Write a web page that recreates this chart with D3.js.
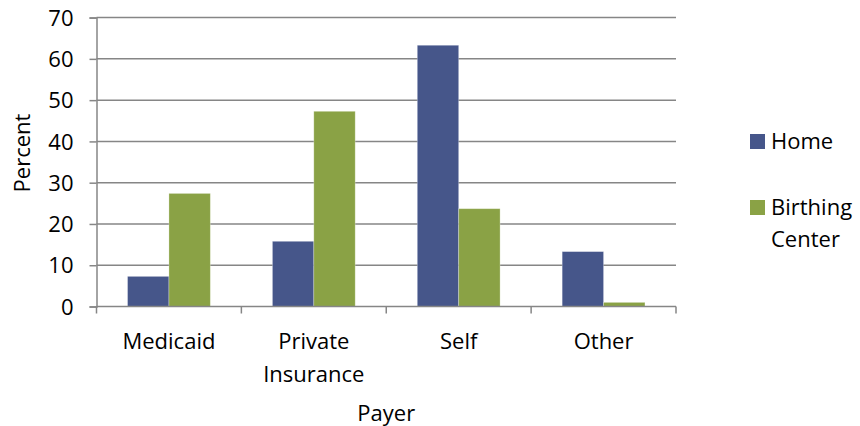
<!DOCTYPE html>
<html>
<head>
<meta charset="utf-8">
<script src="https://cdn.jsdelivr.net/npm/d3@7"></script>
<style>
  html, body { margin: 0; padding: 0; background: #fff; }
  svg text { font-family: "Open Sans", "Liberation Sans", sans-serif; fill: #000; }
</style>
</head>
<body>
<svg id="chart" width="860" height="426"></svg>
<script>
// Payer categories (multi-line labels split on "\n")
const categories = ["Medicaid", "Private\nInsurance", "Self", "Other"];
const seriesNames = ["Home", "Birthing Center"];
const homeValues = [7.3, 15.8, 63.3, 13.3];
const birthingCenterValues = [27.4, 47.3, 23.7, 1.0];
const yTicks = [0, 10, 20, 30, 40, 50, 60, 70];
const colors = ["#46568A", "#8AA245"];

const svg = d3.select("#chart");
const margin = { left: 96.5, right: 184, top: 17.6, bottom: 119.5 };
const W = 860, H = 426;

const x0 = d3.scaleBand()
  .domain(categories)
  .range([margin.left, W - margin.right])
  .padding(0);

const x1 = d3.scaleBand()
  .domain(seriesNames)
  .range([0, x0.bandwidth()])
  .paddingInner(0)
  .paddingOuter(0.75);

const y = d3.scaleLinear()
  .domain([0, 70])
  .range([H - margin.bottom, margin.top]);

const fontSize = 22;
const gridColor = "#868686";

// Horizontal gridlines
svg.append("g")
  .selectAll("line")
  .data(yTicks.filter(d => d > 0))
  .join("line")
  .attr("x1", margin.left)
  .attr("x2", W - margin.right)
  .attr("y1", d => y(d))
  .attr("y2", d => y(d))
  .attr("stroke", gridColor)
  .attr("stroke-width", 1.5);

// Bars
const rows = categories.map((c, i) => ({
  category: c,
  values: [homeValues[i], birthingCenterValues[i]]
}));

const groups = svg.append("g")
  .selectAll("g")
  .data(rows)
  .join("g")
  .attr("transform", d => `translate(${x0(d.category)},0)`);

groups.selectAll("rect")
  .data(d => d.values.map((v, j) => ({ name: seriesNames[j], value: v, j })))
  .join("rect")
  .attr("x", d => x1(d.name))
  .attr("y", d => y(d.value))
  .attr("width", x1.bandwidth())
  .attr("height", d => y(0) - y(d.value))
  .attr("fill", d => colors[d.j])
  .attr("stroke", "#fff")
  .attr("stroke-opacity", 0.35)
  .attr("stroke-width", 0.8);

// Y axis
const yAxis = d3.axisLeft(y)
  .tickValues(yTicks)
  .tickSize(7)
  .tickPadding(16);

const gy = svg.append("g")
  .attr("transform", `translate(${margin.left},0)`)
  .call(yAxis);
gy.select(".domain").attr("stroke", gridColor).attr("stroke-width", 1.5);
gy.selectAll(".tick line").attr("stroke", gridColor).attr("stroke-width", 1.5);
gy.selectAll(".tick text")
  .attr("font-size", fontSize)
  .attr("dy", "0.35em");

// X axis
const xAxis = d3.axisBottom(x0)
  .tickSize(0)
  .tickFormat("");

const gx = svg.append("g")
  .attr("transform", `translate(0,${y(0)})`)
  .call(xAxis);
gx.select(".domain").remove();
gx.append("line")
  .attr("x1", margin.left)
  .attr("x2", W - margin.right)
  .attr("stroke", gridColor)
  .attr("stroke-width", 1.5);

// Category boundary tick marks
const boundaries = categories.map(c => x0(c)).concat([W - margin.right]);
gx.selectAll(".boundary")
  .data(boundaries)
  .join("line")
  .attr("class", "boundary")
  .attr("x1", d => d)
  .attr("x2", d => d)
  .attr("y1", 0)
  .attr("y2", 7)
  .attr("stroke", gridColor)
  .attr("stroke-width", 1.5);

// Category labels
const lineGap = 33;
gx.selectAll(".cat")
  .data(categories)
  .join("text")
  .attr("class", "cat")
  .attr("text-anchor", "middle")
  .attr("font-size", fontSize)
  .attr("transform", d => `translate(${x0(d) + x0.bandwidth() / 2},42)`)
  .each(function(d) {
    d3.select(this).selectAll("tspan")
      .data(d.split("\n"))
      .join("tspan")
      .attr("x", 0)
      .attr("y", (t, i) => i * lineGap)
      .text(t => t);
  });

// Axis titles
svg.append("text")
  .attr("text-anchor", "middle")
  .attr("font-size", fontSize)
  .attr("x", (margin.left + W - margin.right) / 2)
  .attr("y", 421)
  .text("Payer");

svg.append("text")
  .attr("text-anchor", "middle")
  .attr("font-size", fontSize)
  .attr("transform", `translate(30,153) rotate(-90)`)
  .text("Percent");

// Legend
const legendItems = [
  { name: "Home", lines: ["Home"], base: 149, color: colors[0] },
  { name: "Birthing Center", lines: ["Birthing", "Center"], base: 215, color: colors[1] }
];
const legend = svg.append("g");
legendItems.forEach(item => {
  legend.append("rect")
    .attr("x", 750)
    .attr("y", item.base - 15)
    .attr("width", 15)
    .attr("height", 15)
    .attr("fill", item.color);
  const t = legend.append("text")
    .attr("font-size", fontSize)
    .attr("x", 771)
    .attr("y", item.base);
  t.selectAll("tspan")
    .data(item.lines)
    .join("tspan")
    .attr("x", 771)
    .attr("dy", (d, i) => i === 0 ? 0 : 32)
    .text(d => d);
});
</script>
</body>
</html>
